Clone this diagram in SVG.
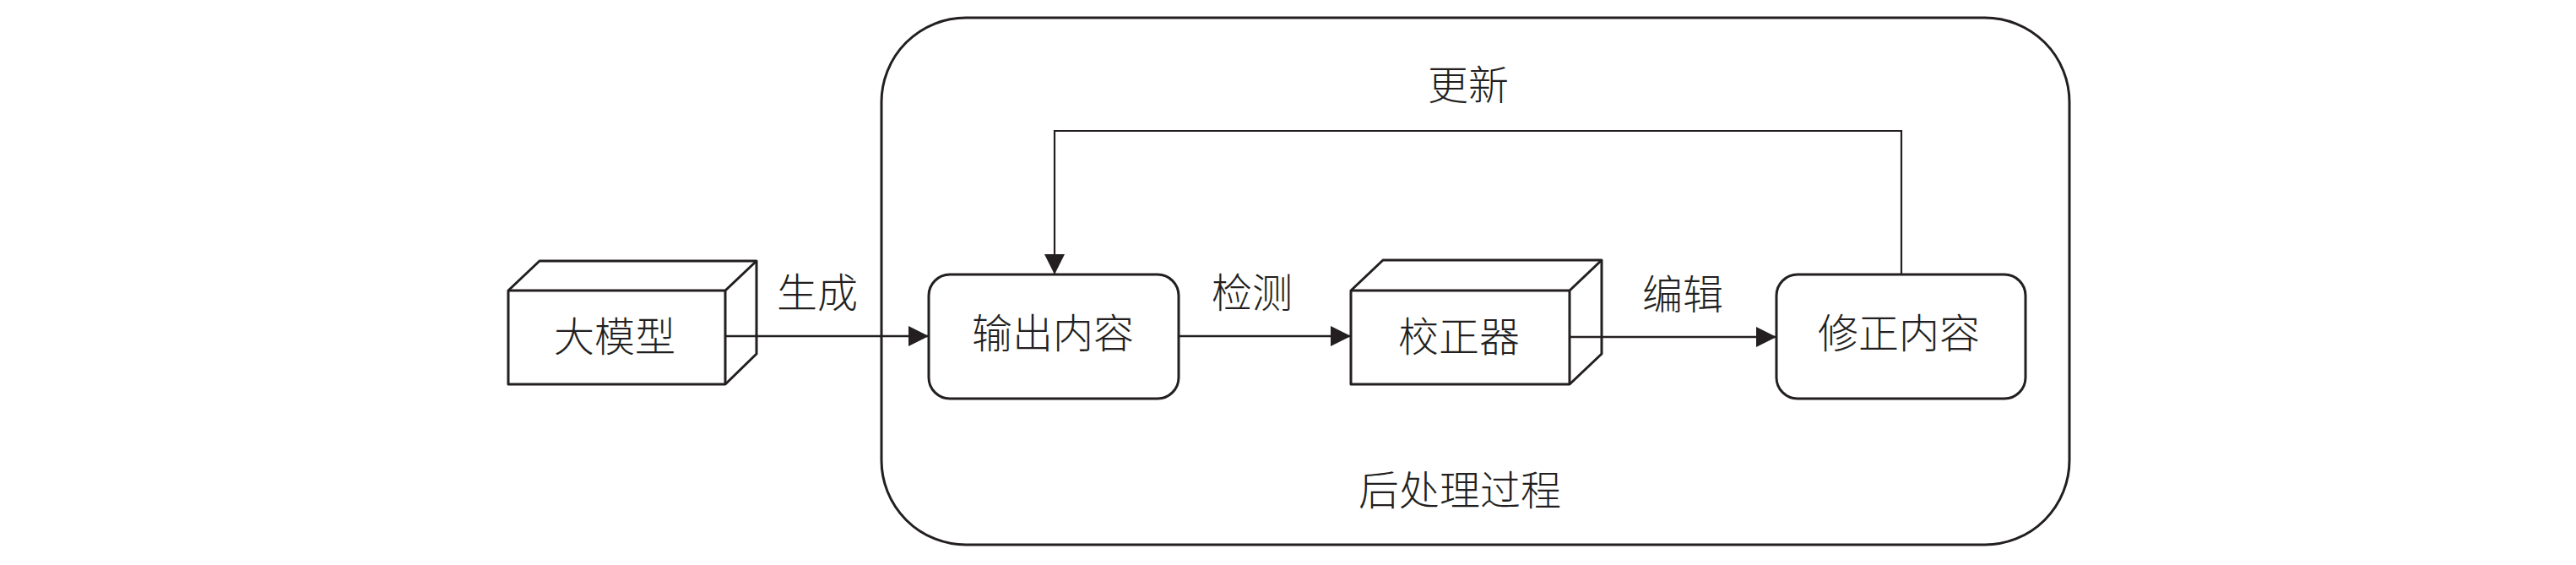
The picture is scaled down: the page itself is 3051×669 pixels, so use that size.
<svg xmlns="http://www.w3.org/2000/svg" width="3051" height="669" viewBox="0 0 3051 669">
<style>
.shape{fill:#fff;stroke:#231f20;stroke-width:3;stroke-linejoin:round}
.box{fill:none;stroke:#231f20;stroke-width:3}
.conn{fill:none;stroke:#231f20;stroke-width:2.6}
.thin{fill:none;stroke:#231f20;stroke-width:2.2}
.t{font-family:"Noto Sans CJK SC","Noto Sans",sans-serif;font-size:48px;font-weight:300;fill:#231f20;text-anchor:middle}
</style>
<defs>
<marker id="ah" viewBox="0 0 24 24" refX="24" refY="12" markerWidth="24" markerHeight="24" markerUnits="userSpaceOnUse" orient="auto">
<path d="M0,0 L24,12 L0,24 Z" fill="#231f20"/>
</marker>
</defs>
<rect width="3051" height="669" fill="#fff"/>
<g id="container">
<rect class="box" x="1044" y="21" width="1407" height="624" rx="100" ry="100"/>
<text class="t" x="1729" y="598">后处理过程</text>
</g>
<g id="llm">
<path class="shape" d="M602,344 L639,309 L896,309 L896,419 L859,455 L602,455 Z"/>
<path class="box" d="M602,344 L859,344 L896,309 M859,344 L859,455"/>
<text class="t" x="728" y="416">大模型</text>
</g>
<g id="output">
<rect class="shape" x="1100" y="325" width="296" height="147" rx="25" ry="25"/>
<text class="t" x="1247" y="412">输出内容</text>
</g>
<g id="corrector">
<path class="shape" d="M1600,344 L1638,308 L1897,308 L1897,419 L1859,455 L1600,455 Z"/>
<path class="box" d="M1600,344 L1859,344 L1897,308 M1859,344 L1859,455"/>
<text class="t" x="1728" y="416">校正器</text>
</g>
<g id="revised">
<rect class="shape" x="2104" y="325" width="295" height="147" rx="25" ry="25"/>
<text class="t" x="2249" y="412">修正内容</text>
</g>
<g id="connectors">
<line class="conn" x1="859" y1="398" x2="1100" y2="398" marker-end="url(#ah)"/>
<line class="conn" x1="1396" y1="398" x2="1600" y2="398" marker-end="url(#ah)"/>
<line class="conn" x1="1859" y1="399" x2="2104" y2="399" marker-end="url(#ah)"/>
<polyline class="thin" points="2252,325 2252,155 1249,155 1249,325" marker-end="url(#ah)"/>
<text class="t" x="968" y="364">生成</text>
<text class="t" x="1483" y="364">检测</text>
<text class="t" x="1993" y="366">编辑</text>
<text class="t" x="1739" y="118">更新</text>
</g>
</svg>
